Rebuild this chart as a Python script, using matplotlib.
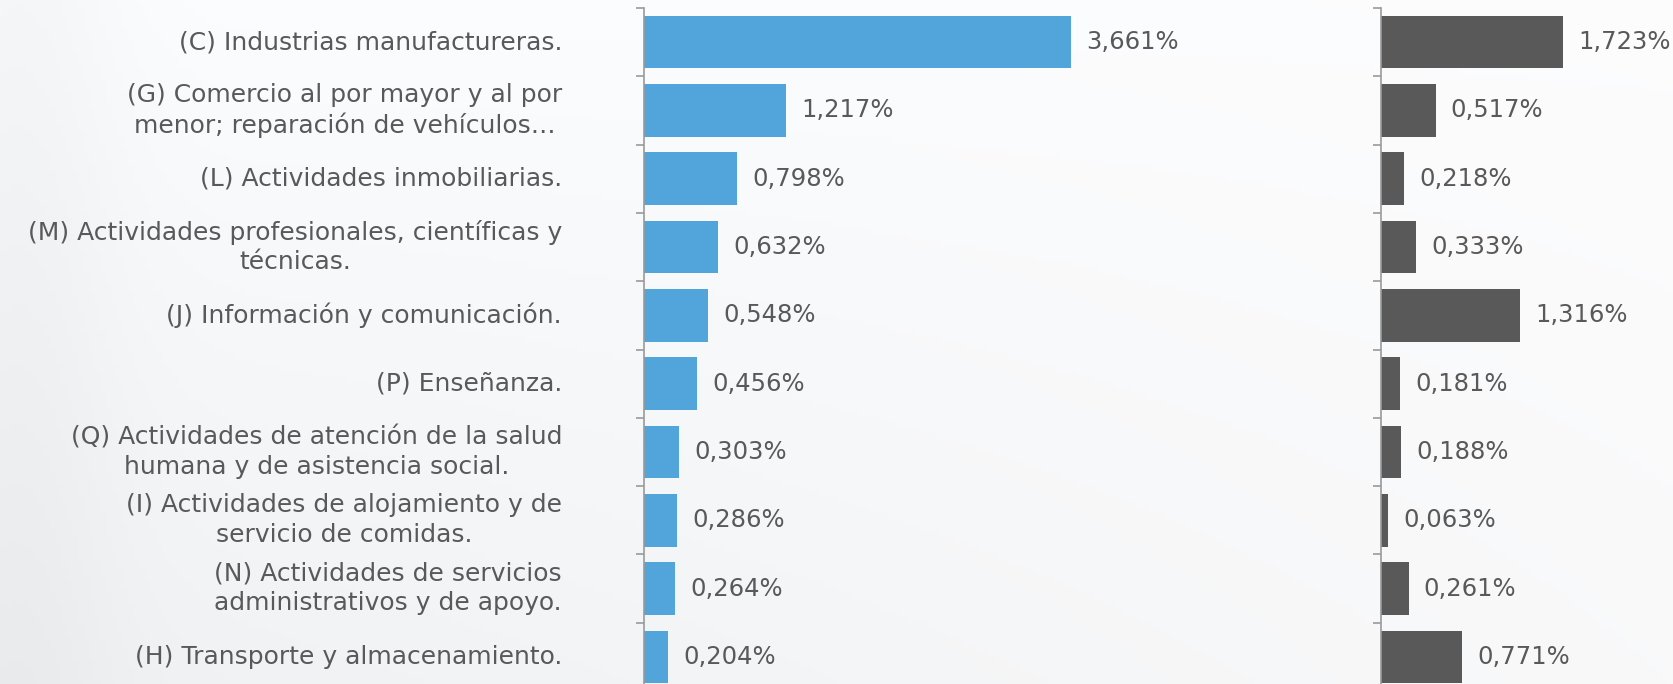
import numpy as np
import matplotlib.pyplot as plt

# categories, top to bottom
categorias = [
    "(C) Industrias manufactureras.",
    "(G) Comercio al por mayor y al por\nmenor; reparación de vehículos…",
    "(L) Actividades inmobiliarias.",
    "(M) Actividades profesionales, científicas y\ntécnicas.",
    "(J) Información y comunicación.",
    "(P) Enseñanza.",
    "(Q) Actividades de atención de la salud\nhumana y de asistencia social.",
    "(I) Actividades de alojamiento y de\nservicio de comidas.",
    "(N) Actividades de servicios\nadministrativos y de apoyo.",
    "(H) Transporte y almacenamiento.",
]
serie_azul = [3.661, 1.217, 0.798, 0.632, 0.548, 0.456, 0.303, 0.286, 0.264, 0.204]
serie_gris = [1.723, 0.517, 0.218, 0.333, 1.316, 0.181, 0.188, 0.063, 0.261, 0.771]

W, H = 1673, 684
txt_color = '#595959'
plt.rcParams['font.family'] = ['DejaVu Sans']

fig = plt.figure(figsize=(W / 100, H / 100), dpi=100)

# light background with a soft gradient
bg = fig.add_axes([0, 0, 1, 1], zorder=-10)
gx = np.linspace(0, 1, 300)
gy = np.linspace(0, 1, 120)
X, Y = np.meshgrid(gx, gy)
val = 0.99 - 0.045 * (1 - Y) * (1 - 0.7 * X) - 0.025 * np.exp(-((X - 0.01) / 0.06) ** 2)
img = np.dstack([val - 0.008 * (1 - X), val, val + 0.004])
bg.imshow(np.clip(img, 0, 1), aspect='auto', extent=[0, 1, 0, 1], origin='lower')
bg.axis('off')

top_px, row_px = 8, 68.3
n = len(categorias)
ax_h = n * row_px
bottom = 1 - (top_px + ax_h) / H


def panel(x0, width_px, px_per_unit, values, color):
    ax = fig.add_axes([x0 / W, bottom, width_px / W, ax_h / H])
    ax.patch.set_alpha(0)
    y = np.arange(n)
    ax.barh(y, values, height=0.77, color=color)
    ax.set_ylim(n - 0.5, -0.5)
    ax.set_xlim(0, width_px / px_per_unit)
    for s in ['top', 'right', 'bottom']:
        ax.spines[s].set_visible(False)
    ax.spines['left'].set_color('#9a9a9a')
    ax.spines['left'].set_linewidth(1.2)
    ax.set_xticks([])
    ax.set_yticks(np.arange(n + 1) - 0.5)
    ax.set_yticklabels([])
    ax.tick_params(axis='y', length=6, width=1.2, color='#9a9a9a', direction='out')
    for yi, v in zip(y, values):
        ax.annotate(f"{v:.3f}%".replace('.', ','), (v, yi), xytext=(11, 0),
                    textcoords='offset points', va='center', ha='left',
                    fontsize=17.5, color=txt_color)
    return ax


ax1 = panel(644, 560, 116.5, serie_azul, '#52A5DA')
ax2 = panel(1381, 292, 105.5, serie_gris, '#595959')

for yi, lab in enumerate(categorias):
    ax1.annotate(lab, (0, yi), xytext=(-59, 0), textcoords='offset points',
                 xycoords=('axes fraction', 'data'), va='center', ha='right',
                 multialignment='center', fontsize=18, color=txt_color,
                 linespacing=1.3)

fig.savefig('out.png', dpi=100)
